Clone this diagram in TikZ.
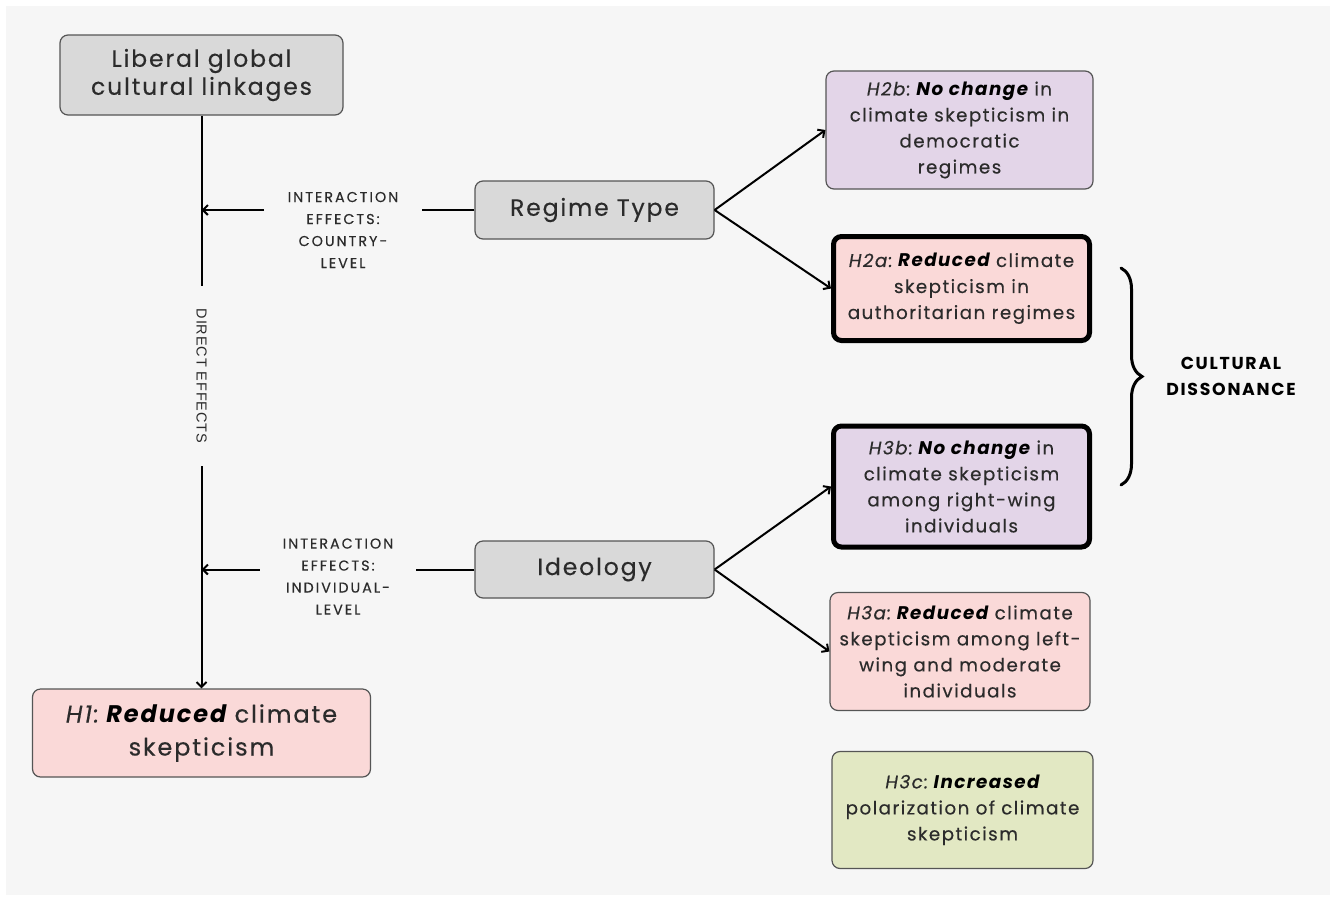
\documentclass[tikz,border=0pt]{standalone}
\usepackage{fontspec}
\setmainfont{Poppins}[LetterSpace=8, UprightFeatures={FakeBold=0.35}, ItalicFeatures={FakeBold=0.35}]
\newfontfamily\labfont{Poppins}[LetterSpace=14, FakeBold=0.3]
\newfontfamily\cdfont{Poppins}[LetterSpace=10]
\newfontfamily\dirfont{Liberation Sans}[LetterSpace=6]
\usetikzlibrary{arrows.meta,decorations.pathreplacing}
\definecolor{bg}{HTML}{F6F6F6}
\definecolor{grayfill}{HTML}{D9D9D9}
\definecolor{purp}{HTML}{E3D5E8}
\definecolor{pinkfill}{HTML}{FAD9D8}
\definecolor{greenfill}{HTML}{E2E8C3}
\definecolor{txt}{HTML}{2B2B2B}
\definecolor{edge}{HTML}{555555}
\newcommand{\bi}[1]{\textcolor{black}{\bfseries\itshape #1}}
\newcommand{\hyp}[1]{\textit{#1:}\hspace{0.22em}}
\tikzset{
 box/.style={draw=edge, line width=1.2pt, rounded corners=8pt, align=center, text=txt, inner sep=0pt},
 thickbox/.style={draw=black, line width=5pt, rounded corners=8pt, align=center, text=txt, inner sep=0pt},
 smalltext/.style={font=\fontsize{18.3}{26}\selectfont},
 bigtext/.style={font=\fontsize{23.5}{28}\selectfont},
 lab/.style={font=\labfont\fontsize{14.3}{22}\selectfont, text=txt, align=center, inner ysep=0pt},
 conn/.style={line width=2pt, draw=black},
 arr/.style={conn, -{Straight Barb[length=5pt,width=10pt]}},
}
\begin{document}
\begin{tikzpicture}[x=1pt,y=-1pt]
\useasboundingbox (0,0) rectangle (1332,897);
\fill[white] (0,0) rectangle (1332,897);
\fill[bg] (6,6) rectangle (1330,895);

% left column
\node[box, fill=grayfill, bigtext, minimum width=283, minimum height=80] (lib) at (201.5,75) {Liberal global\\cultural linkages};
\node[box, fill=pinkfill, font=\fontsize{24}{33}\selectfont, minimum width=338, minimum height=88] (h1) at (201.5,733) {\hyp{H1}\bi{Reduced} climate\\skepticism};
\node[font=\dirfont\fontsize{14.5}{14.5}\selectfont, text=txt, rotate=-90, inner xsep=23pt, inner ysep=2pt] (direct) at (201.5,376) {DIRECT EFFECTS};
\draw[conn] (lib.south) -- (direct.west);
\draw[arr] (direct.east) -- (h1.north);
\coordinate (ca) at (201.5,210);
\coordinate (cb) at (201.5,569.5);

% middle
\node[box, fill=grayfill, bigtext, minimum width=239, minimum height=58] (regime) at (594.5,210) {Regime Type};
\node[box, fill=grayfill, bigtext, minimum width=239, minimum height=57] (ideo) at (594.5,569.5) {Ideology};
\node[lab, inner xsep=23.5pt] (ic) at (343,230) {INTERACTION\\EFFECTS:\\COUNTRY-\\LEVEL};
\node[lab, inner xsep=23pt] (ii) at (338,576.5) {INTERACTION\\EFFECTS:\\INDIVIDUAL-\\LEVEL};
\draw[conn] (regime.west) -- (ic.east |- regime.west);
\draw[arr] (ic.west |- regime.west) -- (ca);
\draw[conn] (ideo.west) -- (ii.east |- ideo.west);
\draw[arr] (ii.west |- ideo.west) -- (cb);

% right column
\node[box, fill=purp, smalltext, minimum width=267, minimum height=118] (h2b) at (959.5,130) {\hyp{H2b}\bi{No change} in\\climate skepticism in\\democratic\\regimes};
\node[thickbox, fill=pinkfill, smalltext, minimum width=256, minimum height=104] (h2a) at (961.5,288.5) {\hyp{H2a}\bi{Reduced} climate\\skepticism in\\authoritarian regimes};
\node[thickbox, fill=purp, smalltext, minimum width=256, minimum height=121] (h3b) at (961.5,486.5) {\hyp{H3b}\bi{No change} in\\climate skepticism\\among right-wing\\individuals};
\node[box, fill=pinkfill, smalltext, minimum width=260, minimum height=118] (h3a) at (960,651.5) {\hyp{H3a}\bi{Reduced} climate\\skepticism among left-\\wing and moderate\\individuals};
\node[box, fill=greenfill, smalltext, minimum width=261, minimum height=117] (h3c) at (962.5,810) {\hyp{H3c}\bi{Increased}\\polarization of climate\\skepticism};

\draw[arr] (regime.east) -- (h2b.west);
\draw[arr] (regime.east) -- (h2a.west);
\draw[arr] (ideo.east) -- (h3b.west);
\draw[arr] (ideo.east) -- (h3a.west);

% brace and label
\draw[line width=3pt, line cap=round, decorate, decoration={brace, amplitude=21pt}] (1121,268) -- (1121,485);
\node[font=\cdfont\bfseries\fontsize{17.3}{26}\selectfont, text=black, align=center] (cd) at (1231,376) {CULTURAL\\DISSONANCE};
\end{tikzpicture}
\end{document}
